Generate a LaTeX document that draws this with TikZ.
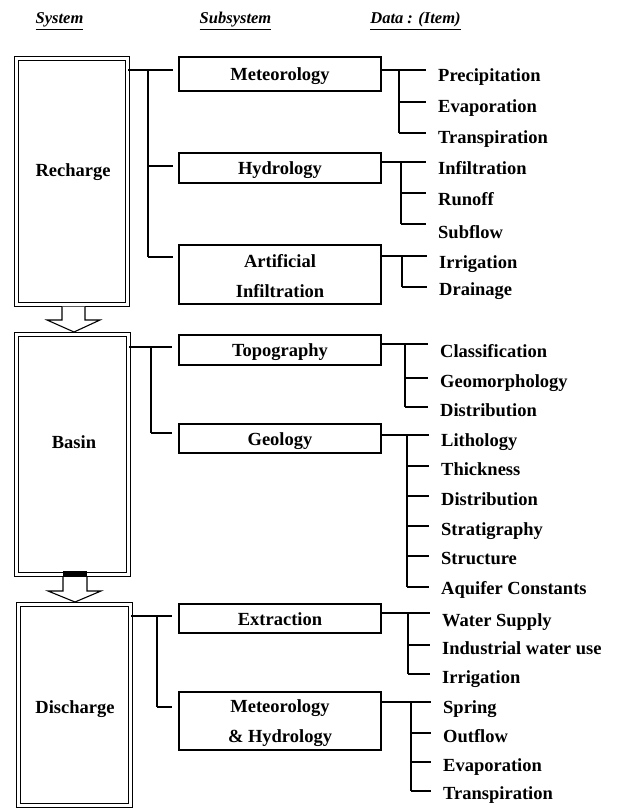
\documentclass[tikz,border=0pt]{standalone}
\usepackage{fontspec}
\setmainfont{Liberation Serif}
\newcommand\bodyfont{\fontsize{18.5}{30}\selectfont\bfseries}
\newcommand\drow[6]{%
  \node[itm] (#1) at (#6,#3+6) {#2};
  \coordinate (#1c) at (#5,#4);
  \draw[ln, shorten >=12pt] (#1c) -- (#1c -| #1.base west);
}
\tikzset{
  ln/.style={line width=1.1pt},
  sysbox/.style={draw, line width=1.1pt, double, double distance=3.5pt, inner sep=0pt},
  subbox/.style={draw, line width=1.1pt, minimum width=202pt, inner sep=0pt, align=center, font=\bodyfont},
  oneline/.style={text height=17pt, text depth=4pt},
  itm/.style={anchor=base west, inner sep=0pt, font=\bodyfont},
  lbl/.style={inner sep=0pt, font=\bodyfont},
  hdr/.style={anchor=base, inner sep=0pt, font=\fontsize{16.5}{20}\selectfont\bfseries\itshape},
  blockarrow/.style={draw, fill=white, line width=1.1pt, line join=miter},
}
\begin{document}
\begin{tikzpicture}[x=1pt, y=-1pt]
\useasboundingbox (0,0) rectangle (616,810);

% headers
\node[hdr] (h1) at (59.5,24) {\underline{System}};
\node[hdr] (h2) at (235.5,24) {\underline{Subsystem}};
\node[hdr] (h3) at (415.5,24) {\underline{Data : (Item)}};

% system boxes
\node[sysbox, minimum width=111pt, minimum height=246pt] (rech) at (72,181.5) {};
\node[sysbox, minimum width=112pt, minimum height=240pt] (basin) at (72.5,454.5) {};
\node[sysbox, minimum width=112pt, minimum height=201pt] (dis) at (74.5,705) {};
\node[lbl] (rechT) at (73,172) {Recharge};
\node[lbl] (basinT) at (74,442) {Basin};
\node[lbl] (disT) at (75,709) {Discharge};

% block arrows
\draw[blockarrow] (62,306.5) -- (62,320) -- (47,320) -- (74,332) -- (100,320) -- (85,320) -- (85,306.5);
\fill (63,571) rectangle (87,577);
\draw[blockarrow] (63,577) -- (63,591) -- (48,591) -- (75,602) -- (101,591) -- (87,591) -- (87,577);

% subsystem boxes
\node[subbox, oneline, minimum height=34pt] (sMet) at (280,74) {Meteorology};
\node[subbox, oneline, minimum height=30pt] (sHyd) at (280,168) {Hydrology};
\node[subbox, minimum height=59pt] (sArt) at (280,274.5) {\rule{0pt}{17pt}Artificial\\Infiltration};
\node[subbox, oneline, minimum height=30pt] (sTop) at (280,350) {Topography};
\node[subbox, oneline, minimum height=29pt] (sGeo) at (280,438.5) {Geology};
\node[subbox, oneline, minimum height=29pt] (sExt) at (280,618.5) {Extraction};
\node[subbox, minimum height=58pt] (sMH) at (280,721) {\rule{0pt}{17pt}Meteorology\\\& Hydrology};

% left connectors
\coordinate (r0) at (148,70);
\coordinate (r1) at (148,166);
\coordinate (r2) at (148,257);
\draw[ln] (rech.east |- r0) -- (r0);
\draw[ln, shorten >=5pt] (r0) -- (r0 -| sMet.west);
\draw[ln] (r0) -- (r2);
\draw[ln, shorten >=5pt] (r1) -- (r1 -| sHyd.west);
\draw[ln, shorten >=5pt] (r2) -- (r2 -| sArt.west);

\coordinate (b0) at (151,347);
\coordinate (b1) at (151,433);
\draw[ln] (basin.east |- b0) -- (b0);
\draw[ln, shorten >=6pt] (b0) -- (b0 -| sTop.west);
\draw[ln] (b0) -- (b1);
\draw[ln, shorten >=6pt] (b1) -- (b1 -| sGeo.west);

\coordinate (d0) at (157,616);
\coordinate (d1) at (157,707);
\draw[ln] (dis.east |- d0) -- (d0);
\draw[ln, shorten >=6pt] (d0) -- (d0 -| sExt.west);
\draw[ln] (d0) -- (d1);
\draw[ln, shorten >=6pt] (d1) -- (d1 -| sMH.west);

% right side items
\drow{m1}{Precipitation}{76}{70}{399}{438}
\drow{m2}{Evaporation}{107}{102}{399}{438}
\drow{m3}{Transpiration}{138}{133}{399}{438}
\draw[ln] (sMet.east |- m1c) -- (m1c);
\draw[ln] (m1c) -- (m3c);

\drow{h1i}{Infiltration}{169}{162}{401}{438}
\drow{h2i}{Runoff}{200}{193}{401}{438}
\drow{h3i}{Subflow}{232}{224}{401}{438}
\draw[ln] (sHyd.east |- h1ic) -- (h1ic);
\draw[ln] (h1ic) -- (h3ic);

\drow{a1}{Irrigation}{262}{256}{402}{439}
\drow{a2}{Drainage}{289}{287}{402}{439}
\draw[ln] (sArt.east |- a1c) -- (a1c);
\draw[ln] (a1c) -- (a2c);

\drow{t1}{Classification}{351}{344}{405}{440}
\drow{t2}{Geomorphology}{381}{378}{405}{440}
\drow{t3}{Distribution}{410}{407}{405}{440}
\draw[ln] (sTop.east |- t1c) -- (t1c);
\draw[ln] (t1c) -- (t3c);

\drow{g1}{Lithology}{440}{435}{407}{441}
\drow{g2}{Thickness}{469}{466}{407}{441}
\drow{g3}{Distribution}{499}{496}{407}{441}
\drow{g4}{Stratigraphy}{529}{526}{407}{441}
\drow{g5}{Structure}{558}{556}{407}{441}
\drow{g6}{Aquifer Constants}{588}{587}{407}{441}
\draw[ln] (sGeo.east |- g1c) -- (g1c);
\draw[ln] (g1c) -- (g6c);

\drow{e1}{Water Supply}{620}{613}{408}{442}
\drow{e2}{Industrial water use}{648}{645}{408}{442}
\drow{e3}{Irrigation}{677}{674}{408}{442}
\draw[ln] (sExt.east |- e1c) -- (e1c);
\draw[ln] (e1c) -- (e3c);

\drow{o1}{Spring}{707}{702}{411}{443}
\drow{o2}{Outflow}{736}{733}{411}{443}
\drow{o3}{Evaporation}{765}{762}{411}{443}
\drow{o4}{Transpiration}{793}{791}{411}{443}
\draw[ln] (sMH.east |- o1c) -- (o1c);
\draw[ln] (o1c) -- (o4c);
\end{tikzpicture}
\end{document}
